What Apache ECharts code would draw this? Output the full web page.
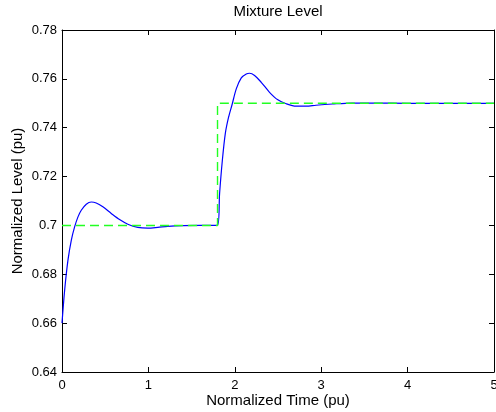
<!DOCTYPE html>
<html>
<head>
<meta charset="utf-8">
<script src="https://cdn.jsdelivr.net/npm/echarts@6/dist/echarts.min.js"></script>
<style>html,body{margin:0;padding:0;background:#fff;}#c{width:496px;height:412px;}</style>
</head>
<body>
<div id="c"></div>
<script>
var titleText = 'Mixture Level';
var xName = 'Normalized Time (pu)';
var yName = 'Normalized Level (pu)';
var xTicks = [0, 1, 2, 3, 4, 5];
var yTicks = [0.64, 0.66, 0.68, 0.7, 0.72, 0.74, 0.76, 0.78];

var levelTime = [0, 0.031, 0.069, 0.108, 0.146, 0.185, 0.223, 0.281, 0.339, 0.396, 0.473, 0.57, 0.666, 0.762, 0.877, 0.993, 1.109, 1.224, 1.4, 1.6, 1.8, 1.824, 1.856, 1.89, 1.928, 1.971, 2.017, 2.075, 2.133, 2.171, 2.229, 2.306, 2.402, 2.498, 2.595, 2.71, 2.826, 2.94, 3.13, 3.35, 3.6, 4.0, 4.5, 5.0];
var levelValue = [0.66, 0.6736, 0.6858, 0.694, 0.6994, 0.7035, 0.7062, 0.7087, 0.7096, 0.7092, 0.7076, 0.7049, 0.7024, 0.7005, 0.6992, 0.6989, 0.6992, 0.6996, 0.6999, 0.7, 0.7, 0.7131, 0.7267, 0.7376, 0.7443, 0.7498, 0.7559, 0.7604, 0.762, 0.7623, 0.7614, 0.7586, 0.7545, 0.7514, 0.7498, 0.7488, 0.7488, 0.7492, 0.7497, 0.7501, 0.7501, 0.75, 0.75, 0.75];

var refTime = [0, 1.8, 1.8, 5];
var refValue = [0.7, 0.7, 0.75, 0.75];

function zip(a, b) { return a.map(function (v, i) { return [v, b[i]]; }); }

var font = 'Liberation Sans, Arial, Helvetica, sans-serif';
var axisCommon = {
  type: 'value',
  axisLine: { show: true, onZero: false, lineStyle: { color: '#000', width: 1 } },
  axisTick: { show: true, inside: true, length: 5, lineStyle: { color: '#000' } },
  splitLine: { show: false }
};

var chart = echarts.init(document.getElementById('c'), null, { renderer: 'canvas' });
chart.setOption({
  animation: false,
  backgroundColor: '#fff',
  title: {
    text: titleText, left: 278, top: 4, padding: 0, textAlign: 'center',
    textStyle: { fontFamily: font, fontSize: 15, fontWeight: 'normal', color: '#000' }
  },
  grid: { left: 62, right: 2, top: 30, bottom: 40, containLabel: false, outerBoundsMode: 'none' },
  xAxis: [
    Object.assign({}, axisCommon, {
      position: 'bottom', min: xTicks[0], max: xTicks[xTicks.length - 1], interval: 1,
      name: xName, nameLocation: 'middle', nameGap: 21, nameMoveOverlap: false,
      nameTextStyle: { fontFamily: font, fontSize: 15, color: '#000' },
      axisLabel: { margin: 7, fontFamily: font, fontSize: 13, color: '#000' }
    }),
    Object.assign({}, axisCommon, {
      position: 'top', min: xTicks[0], max: xTicks[xTicks.length - 1], interval: 1,
      axisLabel: { show: false }
    })
  ],
  yAxis: [
    Object.assign({}, axisCommon, {
      position: 'left', min: yTicks[0], max: yTicks[yTicks.length - 1], interval: 0.02,
      name: yName, nameLocation: 'middle', nameGap: 37, nameMoveOverlap: false,
      nameTextStyle: { fontFamily: font, fontSize: 15, color: '#000' },
      axisLabel: {
        margin: 5, fontFamily: font, fontSize: 13, color: '#000',
        formatter: function (v) { return String(parseFloat(v.toFixed(2))); }
      }
    }),
    Object.assign({}, axisCommon, {
      position: 'right', min: yTicks[0], max: yTicks[yTicks.length - 1], interval: 0.02,
      axisLabel: { show: false }
    })
  ],
  series: [
    {
      type: 'line', data: zip(levelTime, levelValue), showSymbol: false, symbol: 'none',
      smooth: 0.3, lineStyle: { color: '#0000ff', width: 1.2 }, z: 2
    },
    {
      type: 'line', data: zip(refTime, refValue), showSymbol: false, symbol: 'none',
      lineStyle: { color: '#22ff22', width: 1.4, type: [9, 5] }, z: 3
    }
  ]
});
</script>
</body>
</html>
